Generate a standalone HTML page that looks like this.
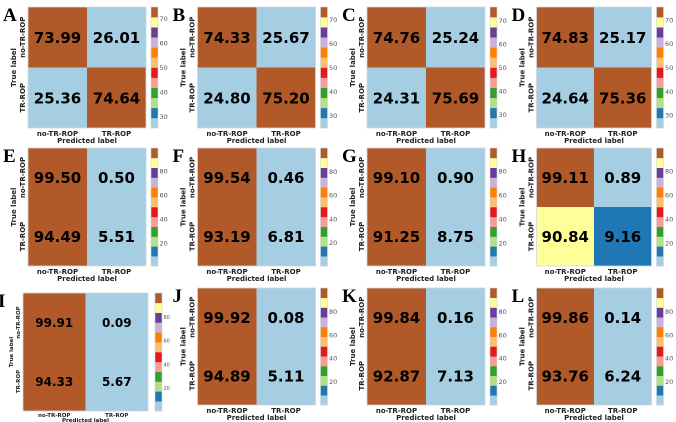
<!DOCTYPE html>
<html><head><meta charset="utf-8"><style>
html,body{margin:0;padding:0;background:#fff;}
svg{display:block;}
text{font-family:"DejaVu Sans","Liberation Sans",sans-serif;}
</style></head><body>
<svg id="chart" width="676" height="422" viewBox="0 0 676 422"></svg>
<script>
const panelLetters = ["A","B","C","D","E","F","G","H","I","J","K","L"];
const topLeft = [73.99,74.33,74.76,74.83,99.50,99.54,99.10,99.11,99.91,99.92,99.84,99.86];
const topRight = [26.01,25.67,25.24,25.17,0.50,0.46,0.90,0.89,0.09,0.08,0.16,0.14];
const bottomLeft = [25.36,24.80,24.31,24.64,94.49,93.19,91.25,90.84,94.33,94.89,92.87,93.76];
const bottomRight = [74.64,75.20,75.69,75.36,5.51,6.81,8.75,9.16,5.67,5.11,7.13,6.24];
const row1Ticks = [30,40,50,60,70];
const row23Ticks = [20,40,60,80];
const classLabels = ["no-TR-ROP","TR-ROP"];
const paired = ["#a6cee3","#1f78b4","#b2df8a","#33a02c","#fb9a99","#e31a1c","#fdbf6f","#ff7f00","#cab2d6","#6a3d9a","#ffff99","#b15928"];

const svg = document.getElementById('chart');
const NS = "http://www.w3.org/2000/svg";
function mk(tag, attrs, parent){const e=document.createElementNS(NS,tag);for(const k in attrs)e.setAttribute(k,attrs[k]);(parent||svg).appendChild(e);return e;}
function cmap(v,vmin,vmax){let t=(v-vmin)/(vmax-vmin);let i=Math.floor(t*12);if(i>11)i=11;if(i<0)i=0;return paired[i];}

const rowY = [[7,128],[148,266],[288,405]];
for(let p=0;p<12;p++){
  const col=p%4,row=Math.floor(p/4);
  const special=(p===8);
  let x0=28+col*169.5, x1=x0+(col===3?115:118), y0=rowY[row][0], y1=rowY[row][1];
  let cbx=x1+5;
  if(special){x0=23;x1=148;y0=293;y1=411;cbx=155;}
  const vals=[topLeft[p],topRight[p],bottomLeft[p],bottomRight[p]];
  const vmin=Math.min(...vals), vmax=Math.max(...vals);
  const g=mk('g',{});
  
  
  const L=mk('text',{x:x0-25,y:y0+14,'font-weight':'bold','font-size':'19'},g);
  L.style.fontFamily='"Liberation Serif",serif';
  L.textContent=panelLetters[p];
  
  
  const w=(x1-x0)/2,h=(y1-y0)/2;
  const fs=special?12:15;
  for(let r=0;r<2;r++)for(let c=0;c<2;c++){
    const v=vals[r*2+c];
    const rc=mk('rect',{x:x0+c*w,y:y0+r*h,width:w,height:h,fill:cmap(v,vmin,vmax)},g);
    
    
    const t=mk('text',{x:x0+c*w+w/2,y:y0+r*h+h/2+fs*0.37,'text-anchor':'middle','font-weight':'bold','font-size':fs,fill:'#000'},g);
    t.textContent=v.toFixed(2);
    
    
  }
  mk('rect',{x:x0,y:y0,width:x1-x0,height:y1-y0,fill:'none',stroke:'#cfd8dc','stroke-width':0.8},g);
  const lfs=special?5.5:7;
  for(let c=0;c<2;c++){
    const t=mk('text',{x:x0+c*w+w/2,y:y1+(special?6:8),'text-anchor':'middle','font-weight':'bold','font-size':lfs,fill:'#222'},g);
    t.textContent=classLabels[c];
    
    
    const ty=y0+c*h+h/2;
    const t2=mk('text',{x:0,y:0,'text-anchor':'middle','font-weight':'bold','font-size':lfs,fill:'#222',transform:`translate(${x0-3},${ty}) rotate(-90)`},g);
    t2.textContent=classLabels[c];
    
    
  }
  const xl=mk('text',{x:(x0+x1)/2,y:special?y1+11:y1+15,'text-anchor':'middle','font-weight':'bold','font-size':lfs,fill:'#222'},g);
  xl.textContent='Predicted label';
  
  
  const yl=mk('text',{x:0,y:0,'text-anchor':'middle','font-weight':'bold','font-size':lfs,fill:'#222',transform:`translate(${x0-(special?10:12)},${(y0+y1)/2}) rotate(-90)`},g);
  yl.textContent='True label';
  
  
  const ch=(y1-y0)/12;
  for(let i=0;i<12;i++){
    const s=mk('rect',{x:cbx,y:y1-(i+1)*ch,width:7,height:ch+0.3,fill:paired[i]},g);
    
    
  }
  mk('rect',{x:cbx,y:y0,width:7,height:y1-y0,fill:'none',stroke:'#cfd8dc','stroke-width':0.6},g);
  const ticks=row===0?row1Ticks:row23Ticks;
  ticks.forEach(tv=>{
    if(tv<vmin||tv>vmax)return;
    const ty=y1-(tv-vmin)/(vmax-vmin)*(y1-y0);
    const t=mk('text',{x:cbx+8.5,y:ty+2.5,'font-size':special?5:6.5,fill:'#555'},g);
    t.textContent=tv;
    
    
  });
}
</script>
</body></html>
